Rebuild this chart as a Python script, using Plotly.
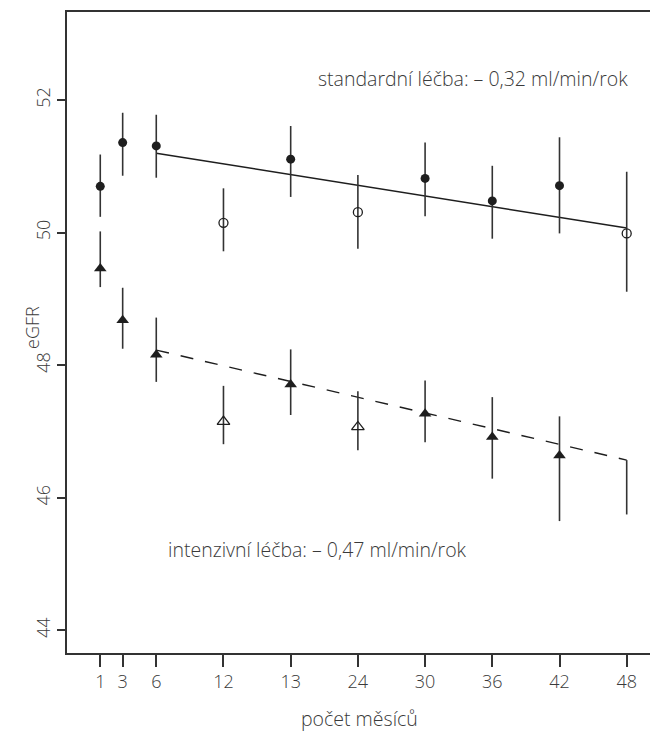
import plotly.graph_objects as go

# ---- data ----
months = [1, 3, 6, 12, 18, 24, 30, 36, 42, 48]
tick_labels = ["1", "3", "6", "12", "13", "24", "30", "36", "42", "48"]

std_mean = [50.70, 51.36, 51.31, 50.15, 51.11, 50.31, 50.82, 50.48, 50.71, 49.99]
std_hi = [51.18, 51.81, 51.78, 50.67, 51.61, 50.87, 51.36, 51.01, 51.44, 50.92]
std_lo = [50.24, 50.86, 50.83, 49.72, 50.54, 49.76, 50.25, 49.91, 49.99, 49.11]
std_open = [False, False, False, True, False, True, False, False, False, True]

int_mean = [49.46, 48.68, 48.16, 47.15, 47.71, 47.07, 47.27, 46.92, 46.64, 46.16]
int_hi = [50.02, 49.17, 48.72, 47.69, 48.24, 47.61, 47.77, 47.52, 47.23, 46.57]
int_lo = [49.18, 48.25, 47.75, 46.81, 47.25, 46.72, 46.84, 46.29, 45.65, 45.75]
int_open = [False, False, False, True, False, True, False, False, False, None]  # None = no marker

std_fit_x = [6, 48]
std_fit_y = [51.20, 50.07]
int_fit_x = [6, 48]
int_fit_y = [48.23, 46.57]

std_label = "standardní léčba: – 0,32 ml/min/rok"
int_label = "intenzivní léčba: – 0,47 ml/min/rok"

# ---- figure ----
W, H = 650, 738
ML, MT, MB, MR = 67, 12, 85, 0
INK = "#1e1e1e"
TXT = "#3a3a3a"
FONT = "Open Sans"
FS = 18
FS_ANN = 19.5

fig = go.Figure()

def add_series(mean, hi, lo, flags, filled_sym, open_sym, size):
    for kind in ("filled", "open", "none"):
        idx = [i for i, f in enumerate(flags)
               if (kind == "filled" and f is False) or (kind == "open" and f is True) or (kind == "none" and f is None)]
        if not idx:
            continue
        xs = [months[i] for i in idx]
        ys = [mean[i] for i in idx]
        ep = [hi[i] - mean[i] for i in idx]
        em = [mean[i] - lo[i] for i in idx]
        if kind == "filled":
            marker = dict(symbol=filled_sym, size=size, color=INK)
        elif kind == "open":
            marker = dict(symbol=open_sym, size=size, color=INK, line=dict(width=1.3, color=INK))
        else:
            marker = dict(size=1, color="rgba(0,0,0,0)")
        fig.add_trace(go.Scatter(
            x=xs, y=ys, mode="markers", marker=marker,
            error_y=dict(type="data", symmetric=False, array=ep, arrayminus=em,
                         color="#333333", thickness=1.6, width=0),
            showlegend=False, hoverinfo="skip"))

fig.add_trace(go.Scatter(x=std_fit_x, y=std_fit_y, mode="lines",
                         line=dict(color=INK, width=1.5), showlegend=False))
fig.add_trace(go.Scatter(x=int_fit_x, y=int_fit_y, mode="lines",
                         line=dict(color=INK, width=1.4, dash="13px,12px"), showlegend=False))

add_series(std_mean, std_hi, std_lo, std_open, "circle", "circle-open", 9)
add_series(int_mean, int_hi, int_lo, int_open, "triangle-up", "triangle-up-open", 11)

fig.add_annotation(x=48.3, y=52.33, xref="x", yref="y", text=std_label, showarrow=False,
                   xanchor="right", yanchor="middle",
                   font=dict(family=FONT, size=FS_ANN, color=TXT, weight=300))
fig.add_annotation(x=6.85, y=45.22, xref="x", yref="y", text=int_label, showarrow=False,
                   xanchor="left", yanchor="middle",
                   font=dict(family=FONT, size=FS_ANN, color=TXT, weight=300))

# axis titles as annotations
pw = W - ML - MR
ph = H - MT - MB
fig.add_annotation(x=(359 - ML) / pw, y=-(718 - (H - MB)) / ph, xref="paper", yref="paper",
                   text="počet měsíců", showarrow=False, xanchor="center", yanchor="middle",
                   font=dict(family=FONT, size=FS_ANN, color=TXT, weight=300))
fig.add_annotation(x=(32 - ML) / pw, y=((H - MB) - 328) / ph, xref="paper", yref="paper",
                   text="eGFR", showarrow=False, textangle=-90, xanchor="center", yanchor="middle",
                   font=dict(family=FONT, size=FS, color=TXT, weight=300))

fig.update_xaxes(range=[-1.97, 50.08], tickvals=months, ticktext=tick_labels,
                 showline=True, linecolor="#333333", linewidth=1.5, mirror=True,
                 ticks="outside", ticklen=12, tickwidth=1.5, tickcolor="#333333",
                 showgrid=False, zeroline=False, automargin=False,
                 tickfont=dict(family=FONT, size=FS, color=TXT, weight=300))
fig.update_yaxes(range=[43.66, 53.33], tickvals=[44, 46, 48, 50, 52],
                 showline=True, linecolor="#333333", linewidth=1.5, mirror=False,
                 ticks="outside", ticklen=8, tickwidth=1.5, tickcolor="#333333",
                 showgrid=False, zeroline=False, tickangle=-90, automargin=False,
                 tickfont=dict(family=FONT, size=FS, color=TXT, weight=300))

fig.update_layout(width=W, height=H, margin=dict(l=ML, r=MR, t=MT, b=MB),
                  plot_bgcolor="white", paper_bgcolor="white", showlegend=False)

fig.write_html("out.html", config={"displayModeBar": False},
               post_script="document.body.style.margin='0';document.body.style.overflow='hidden';")
